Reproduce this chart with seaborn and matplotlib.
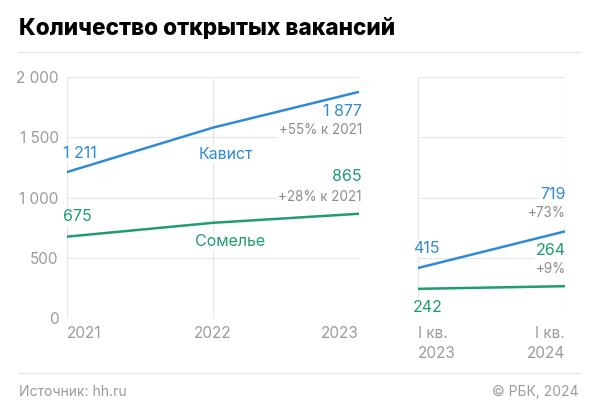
import numpy as np
import pandas as pd
import matplotlib
matplotlib.use("Agg")
import matplotlib.pyplot as plt
from matplotlib.lines import Line2D
import seaborn as sns

# ------------------------------------------------------------
# Данные
# ------------------------------------------------------------
years = [2021, 2022, 2023]
kavist_year = [1211, 1580, 1877]
somelie_year = [675, 790, 865]

quarters = ["I кв.\n2023", "I кв.\n2024"]
kavist_q = [415, 719]
somelie_q = [242, 264]

yticks = [0, 500, 1000, 1500, 2000]
ytick_labels = ["0", "500", "1 000", "1 500", "2 000"]

BLUE = "#2f8bd6"
GREEN = "#1d9e6c"
GRAY = "#8c8c8c"
TICK = "#9b9b9b"
GRID = "#e6e6e6"

sns.set_theme(style="white")
plt.rcParams["font.family"] = ["Inter", "DejaVu Sans"]

fig = plt.figure(figsize=(5.97, 4.12), dpi=100)
ax1 = fig.add_axes([67 / 597, 1 - 318 / 412, 292 / 597, 241 / 412])
ax2 = fig.add_axes([418 / 597, 1 - 318 / 412, 147 / 597, 241 / 412])

df_year = pd.DataFrame({
    "x": years * 2,
    "v": kavist_year + somelie_year,
    "s": ["Кавист"] * 3 + ["Сомелье"] * 3,
})
df_q = pd.DataFrame({
    "x": [0, 1] * 2,
    "v": kavist_q + somelie_q,
    "s": ["Кавист"] * 2 + ["Сомелье"] * 2,
})
pal = {"Кавист": BLUE, "Сомелье": GREEN}

sns.lineplot(data=df_year, x="x", y="v", hue="s", palette=pal, lw=1.8,
             legend=False, ax=ax1, zorder=6)
sns.lineplot(data=df_q, x="x", y="v", hue="s", palette=pal, lw=1.8,
             legend=False, ax=ax2, zorder=6)

for ax, xs in [(ax1, years), (ax2, [0, 1])]:
    ax.set_xlim(xs[0], xs[-1])
    ax.set_ylim(0, 2000)
    ax.set_yticks(yticks)
    ax.set_xticks(xs)
    ax.grid(True, color=GRID, lw=0.8, zorder=0)
    for sp in ax.spines.values():
        sp.set_visible(False)
    ax.set_xlabel("")
    ax.set_ylabel("")
    ax.tick_params(length=0, labelsize=11, labelcolor=TICK, pad=6)

ax1.set_yticklabels(ytick_labels)
ax2.set_yticklabels([])
ax1.set_xticklabels([str(y) for y in years])
ax2.set_xticklabels(quarters, linespacing=1.4)
for lab, ha in zip(ax1.get_xticklabels(), ["left", "center", "right"]):
    lab.set_ha(ha)
for lab, ha in zip(ax2.get_xticklabels(), ["left", "right"]):
    lab.set_ha(ha)


def note(ax, xy, text, dx, dy, color, ha, size=11.5):
    ax.annotate(text, xy=xy, xytext=(dx, dy), textcoords="offset pixels",
                ha=ha, va="center", color=color, fontsize=size, zorder=5,
                bbox=dict(boxstyle="square,pad=0.1", fc="white", ec="none"))


# подписи — годовые
note(ax1, (years[0], kavist_year[0]), "1 211", -4, 19, BLUE, "left")
note(ax1, (years[1], kavist_year[1]), "Кавист", 13, -27, BLUE, "center")
note(ax1, (years[2], kavist_year[2]), "1 877", 3, -20, BLUE, "right")
note(ax1, (years[2], kavist_year[2]), "+55% к 2021", 3, -38, GRAY, "right", 9.7)
note(ax1, (years[2], somelie_year[2]), "865", 3, 37, GREEN, "right")
note(ax1, (years[2], somelie_year[2]), "+28% к 2021", 3, 17, GRAY, "right", 9.7)
note(ax1, (years[0], somelie_year[0]), "675", -4, 20, GREEN, "left")
note(ax1, (years[1], somelie_year[1]), "Сомелье", 17, -19, GREEN, "center")

# подписи — квартальные
note(ax2, (0, kavist_q[0]), "415", -5, 19, BLUE, "left")
note(ax2, (1, kavist_q[1]), "719", 1, 37, BLUE, "right")
note(ax2, (1, kavist_q[1]), "+73%", 1, 18, GRAY, "right", 9.7)
note(ax2, (1, somelie_q[1]), "264", 1, 36, GREEN, "right")
note(ax2, (1, somelie_q[1]), "+9%", 1, 17, GRAY, "right", 9.7)
note(ax2, (0, somelie_q[0]), "242", -5, -19, GREEN, "left")

# шапка и подвал
fig.text(19 / 597, 1 - 29 / 412, "Количество открытых вакансий",
         fontsize=16.3, fontweight="heavy", color="black", va="center", ha="left")
fig.add_artist(Line2D([18 / 597, 580 / 597], [1 - 52 / 412] * 2,
                      color=GRID, lw=1))
fig.add_artist(Line2D([18 / 597, 580 / 597], [1 - 373 / 412] * 2,
                      color=GRID, lw=1))
fig.text(19 / 597, 1 - 392 / 412, "Источник: hh.ru", fontsize=10,
         color=TICK, va="center", ha="left")
fig.text(578 / 597, 1 - 392 / 412, "© РБК, 2024", fontsize=10,
         color=TICK, va="center", ha="right")

fig.savefig("out.png", dpi=100, facecolor="white")
